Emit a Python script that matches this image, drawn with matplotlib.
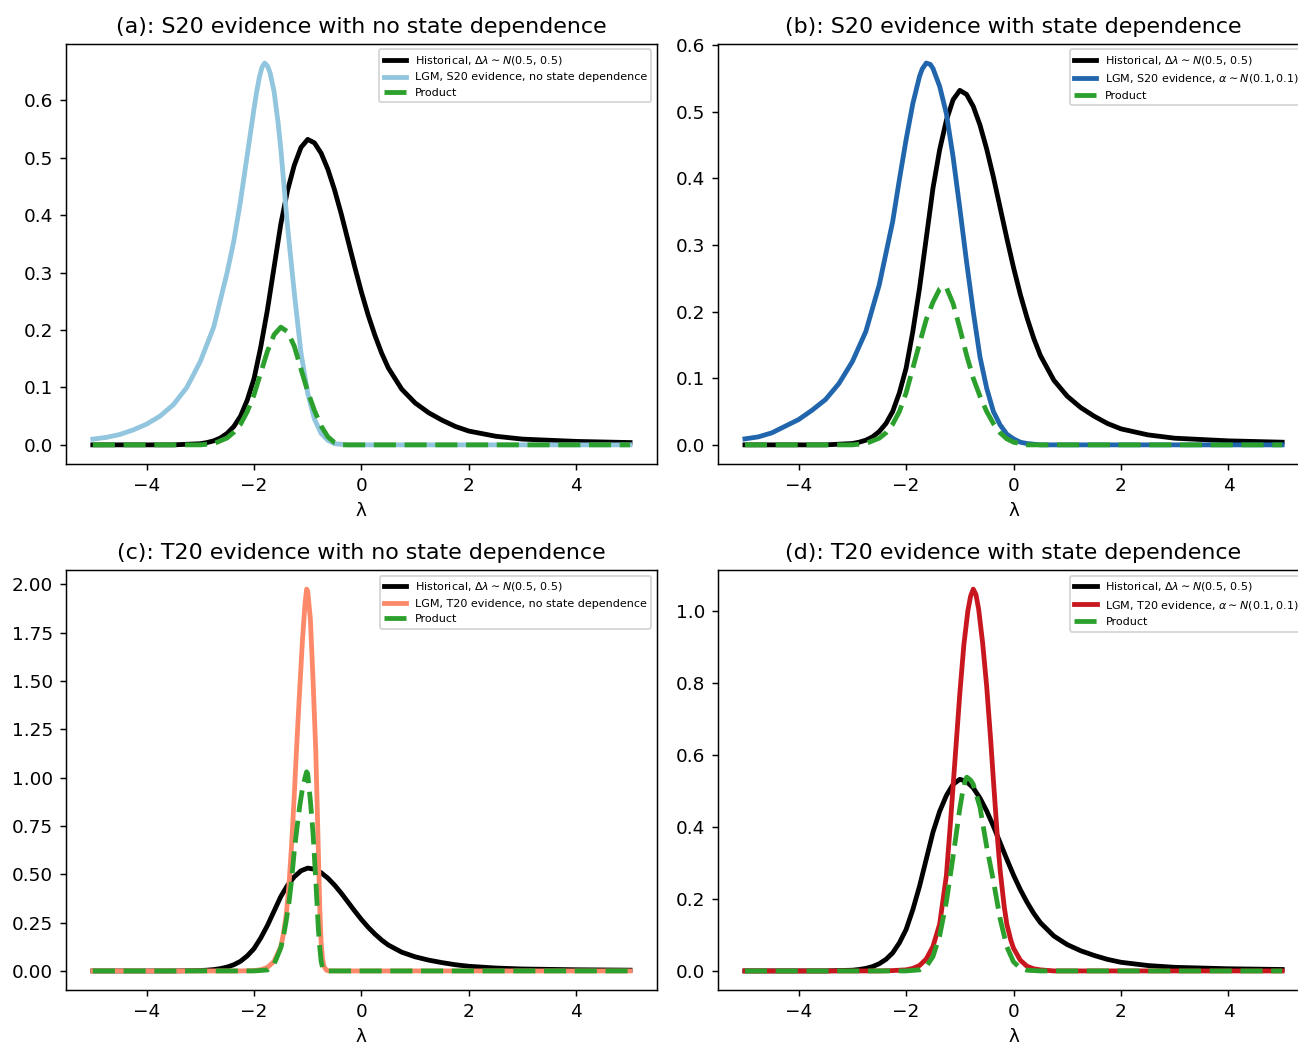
import matplotlib
matplotlib.use("Agg")
import matplotlib.pyplot as plt

# ---- data: densities over lambda (W m^-2 K^-1) ---------------------------
hist_lam = [-5.0, -4.0, -3.5, -3.25, -3.0, -2.875, -2.75, -2.625, -2.5, -2.375, -2.25,
            -2.125, -2.0, -1.875, -1.75, -1.625, -1.5, -1.375, -1.25, -1.125, -1.0,
            -0.875, -0.75, -0.625, -0.5, -0.375, -0.25, -0.125, 0.0, 0.125, 0.25,
            0.375, 0.5, 0.75, 1.0, 1.25, 1.5, 1.75, 2.0, 2.5, 3.0, 3.5, 4.0, 4.5, 5.0]
hist_pdf = [0.000, 0.000, 0.000, 0.001, 0.002, 0.004, 0.007, 0.012, 0.020, 0.032, 0.050,
            0.078, 0.115, 0.170, 0.235, 0.310, 0.385, 0.443, 0.487, 0.518, 0.532,
            0.526, 0.508, 0.480, 0.444, 0.402, 0.356, 0.310, 0.266, 0.226, 0.191,
            0.160, 0.134, 0.097, 0.073, 0.056, 0.043, 0.032, 0.024, 0.015, 0.010,
            0.008, 0.006, 0.005, 0.004]

# (a) S20, no state dependence
s20_lam = [-5.0, -4.75, -4.5, -4.25, -4.0, -3.75, -3.5, -3.25, -3.0, -2.75, -2.5, -2.375,
           -2.25, -2.125, -2.0, -1.95, -1.9, -1.85, -1.8, -1.75, -1.7, -1.625, -1.55, -1.5,
           -1.375, -1.25, -1.125, -1.0, -0.875, -0.75, -0.625, -0.5, -0.25, 5.0]
s20_pdf = [0.010, 0.013, 0.018, 0.026, 0.036, 0.050, 0.070, 0.100, 0.145, 0.205, 0.300, 0.355,
           0.425, 0.505, 0.585, 0.615, 0.640, 0.658, 0.665, 0.660, 0.648, 0.615, 0.560, 0.515,
           0.380, 0.265, 0.160, 0.090, 0.045, 0.020, 0.008, 0.002, 0.000, 0.000]
s20_prod_lam = [-5.0, -3.0, -2.75, -2.5, -2.375, -2.25, -2.125, -2.0, -1.875, -1.75, -1.625,
                -1.5, -1.375, -1.25, -1.125, -1.0, -0.875, -0.75, -0.625, -0.5, -0.375, 5.0]
s20_prod_pdf = [0.000, 0.000, 0.002, 0.012, 0.022, 0.036, 0.058, 0.087, 0.125, 0.163, 0.192,
                0.205, 0.197, 0.172, 0.132, 0.093, 0.060, 0.033, 0.014, 0.004, 0.000, 0.000]

# (b) S20, state dependent
s20s_lam = [-5.0, -4.75, -4.5, -4.25, -4.0, -3.75, -3.5, -3.25, -3.0, -2.75, -2.5, -2.25,
            -2.125, -2.0, -1.875, -1.75, -1.7, -1.625, -1.55, -1.5, -1.375, -1.25, -1.125,
            -1.0, -0.875, -0.75, -0.625, -0.5, -0.375, -0.25, -0.125, 0.0, 0.125, 0.25,
            0.5, 5.0]
s20s_pdf = [0.009, 0.012, 0.018, 0.028, 0.038, 0.052, 0.068, 0.092, 0.125, 0.170, 0.240, 0.335,
            0.398, 0.458, 0.512, 0.553, 0.564, 0.573, 0.571, 0.565, 0.538, 0.497, 0.432,
            0.355, 0.275, 0.200, 0.132, 0.085, 0.050, 0.030, 0.016, 0.009, 0.004, 0.002,
            0.000, 0.000]
s20s_prod_lam = [-5.0, -3.0, -2.75, -2.5, -2.375, -2.25, -2.125, -2.0, -1.875, -1.75, -1.625,
                 -1.5, -1.375, -1.3, -1.25, -1.125, -1.0, -0.875, -0.75, -0.625, -0.5,
                 -0.375, -0.25, -0.125, 0.0, 0.25, 5.0]
s20s_prod_pdf = [0.000, 0.000, 0.002, 0.010, 0.018, 0.031, 0.050, 0.078, 0.115, 0.152, 0.188,
                 0.214, 0.234, 0.238, 0.236, 0.212, 0.175, 0.135, 0.100, 0.073, 0.050,
                 0.032, 0.018, 0.009, 0.004, 0.000, 0.000]

# (c) T20, no state dependence
t20_lam = [-5.0, -2.25, -2.0, -1.875, -1.75, -1.625, -1.5, -1.45, -1.4, -1.35, -1.3, -1.25,
           -1.2, -1.15, -1.1, -1.05, -1.02, -1.0, -0.95, -0.9, -0.85, -0.8, -0.775, -0.75,
           -0.725, -0.7, -0.65, -0.6, 5.0]
t20_pdf = [0.000, 0.000, 0.002, 0.006, 0.018, 0.050, 0.125, 0.195, 0.290, 0.440, 0.650, 0.910,
           1.190, 1.450, 1.700, 1.900, 1.975, 1.965, 1.820, 1.500, 1.140, 0.600, 0.320, 0.150,
           0.065, 0.025, 0.003, 0.000, 0.000]
t20_prod_lam = [-5.0, -2.0, -1.75, -1.625, -1.5, -1.45, -1.4, -1.35, -1.3, -1.25, -1.2, -1.15,
                -1.1, -1.05, -1.02, -1.0, -0.95, -0.9, -0.85, -0.8, -0.775, -0.75, -0.725,
                -0.7, -0.65, 5.0]
t20_prod_pdf = [0.000, 0.000, 0.005, 0.035, 0.120, 0.180, 0.260, 0.350, 0.470, 0.620, 0.740,
                0.850, 0.940, 1.000, 1.030, 1.020, 0.880, 0.710, 0.470, 0.210, 0.120, 0.050,
                0.018, 0.004, 0.000, 0.000]

# (d) T20, state dependent
t20s_lam = [-5.0, -2.5, -2.25, -2.0, -1.875, -1.75, -1.625, -1.5, -1.375, -1.25, -1.175, -1.1,
            -1.0, -0.925, -0.85, -0.8, -0.75, -0.7, -0.65, -0.575, -0.5, -0.425, -0.375, -0.3,
            -0.25, -0.175, -0.125, -0.05, 0.0, 0.125, 0.25, 0.375, 0.5, 0.75, 5.0]
t20s_pdf = [0.000, 0.000, 0.001, 0.003, 0.007, 0.015, 0.033, 0.068, 0.130, 0.265, 0.410, 0.565,
            0.770, 0.905, 1.000, 1.040, 1.060, 1.045, 1.005, 0.910, 0.790, 0.640, 0.530, 0.370,
            0.280, 0.180, 0.130, 0.085, 0.063, 0.030, 0.013, 0.006, 0.003, 0.000, 0.000]
t20s_prod_lam = [-5.0, -2.0, -1.75, -1.625, -1.5, -1.375, -1.25, -1.125, -1.0, -0.95, -0.9,
                 -0.87, -0.8, -0.75, -0.625, -0.5, -0.375, -0.25, -0.125, 0.0, 0.125, 0.25,
                 0.5, 5.0]
t20s_prod_pdf = [0.000, 0.000, 0.003, 0.012, 0.040, 0.098, 0.192, 0.318, 0.451, 0.495, 0.528,
                 0.538, 0.530, 0.518, 0.455, 0.345, 0.250, 0.145, 0.067, 0.025, 0.008, 0.002,
                 0.000, 0.000]

HIST_LABEL = r"Historical, $\Delta\lambda \sim N$(0.5, 0.5)"
panels = [
    ("(a): S20 evidence with no state dependence", "LGM, S20 evidence, no state dependence",
     "#92c5de", s20_lam, s20_pdf, s20_prod_lam, s20_prod_pdf),
    ("(b): S20 evidence with state dependence", r"LGM, S20 evidence, $\alpha \sim N(0.1,0.1)$",
     "#2166ac", s20s_lam, s20s_pdf, s20s_prod_lam, s20s_prod_pdf),
    ("(c): T20 evidence with no state dependence", "LGM, T20 evidence, no state dependence",
     "#fc8a6a", t20_lam, t20_pdf, t20_prod_lam, t20_prod_pdf),
    ("(d): T20 evidence with state dependence", r"LGM, T20 evidence, $\alpha \sim N(0.1,0.1)$",
     "#c8171f", t20s_lam, t20s_pdf, t20s_prod_lam, t20s_prod_pdf),
]

DPI = 133
LW = 2.6
fig = plt.figure(figsize=(1298 / DPI, 1044 / DPI), dpi=DPI)
W, H = 0.4553, 0.4023
positions = [(0.0508, 0.5556), (0.5532, 0.5556), (0.0508, 0.0517), (0.5532, 0.0517)]

for (title, lgm_label, col, lx, ly, px, py), (x0, y0) in zip(panels, positions):
    ax = fig.add_axes([x0, y0, W, H])
    ax.plot(hist_lam, hist_pdf, color="k", lw=LW, label=HIST_LABEL)
    ax.plot(lx, ly, color=col, lw=LW, label=lgm_label)
    ax.plot(px, py, color="#2ca02c", lw=LW, ls=(0, (4.6, 1.8)), label="Product")
    ax.set_title(title, fontsize=12)
    ax.set_xlabel("λ")
    ax.legend(loc="upper right", fontsize=6)

fig.savefig("out.png", dpi=DPI)
